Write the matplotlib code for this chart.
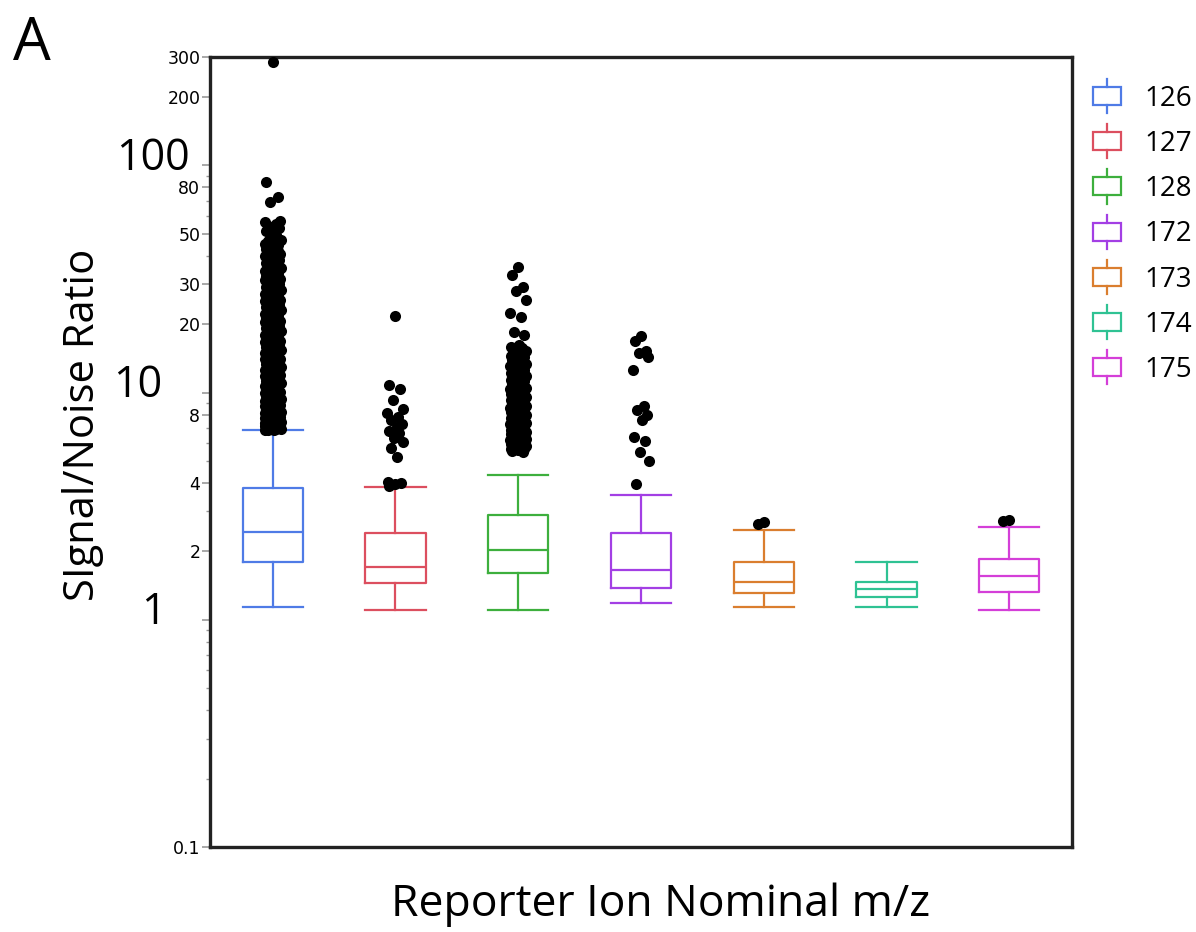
import numpy as np
import matplotlib.pyplot as plt
from matplotlib.patches import Rectangle
from matplotlib.lines import Line2D
from matplotlib.legend_handler import HandlerBase
from matplotlib.ticker import FixedLocator, FixedFormatter
from matplotlib import transforms

# reporter ions and box colours
ions = ['126', '127', '128', '172', '173', '174', '175']
colors = ['#4f7be6', '#dc4f5f', '#3daf3d', '#a33fe4', '#da7e2f', '#2fc293', '#d43fd8']

# box summary values (S/N)
whislo = [1.14, 1.10, 1.10, 1.18, 1.14, 1.14, 1.10]
q1 = [1.80, 1.45, 1.60, 1.38, 1.31, 1.26, 1.33]
med = [2.44, 1.71, 2.03, 1.66, 1.46, 1.37, 1.56]
q3 = [3.79, 2.40, 2.89, 2.40, 1.80, 1.47, 1.86]
whishi = [6.84, 3.85, 4.34, 3.54, 2.48, 1.80, 2.57]

# outliers (approximate, read from the dot columns)
fliers_126 = [285, 84.8, 72.8, 69.2, 57.0, 56.2, 55.4, 54.0, 53.1, 52.0, 51.5, 49.6,
              48.8, 47.2, 46.5, 45.9, 45.0, 44.6, 43.5, 43.0, 42.1, 41.4, 40.8, 40.1,
              39.7, 38.9, 38.2, 37.6, 37.3, 36.6, 36.1, 35.5, 35.0, 34.6, 34.2, 33.6,
              33.1, 32.7, 32.4, 31.9, 31.6, 31.2, 30.8, 30.4, 30.1, 29.6, 29.2, 28.9,
              28.7, 28.3, 28.0, 27.6, 27.3, 27.1, 26.9, 26.5, 26.1, 25.8, 25.5, 25.2,
              25.0, 24.6, 24.3, 24.1, 23.9, 23.5, 23.2, 23.0, 22.8, 22.4, 22.1, 21.9,
              21.7, 21.4, 21.1, 20.9, 20.6, 20.4, 20.2, 19.9, 19.7, 19.5, 19.3, 19.1,
              18.9, 18.6, 18.4, 18.2, 18.0, 17.8, 17.7, 17.5, 17.3, 17.1, 16.9, 16.7,
              16.6, 16.4, 16.2, 16.0, 15.9, 15.7, 15.6, 15.4, 15.3, 15.1, 15.0, 14.8,
              14.7, 14.5, 14.4, 14.2, 14.1, 14.0, 13.9, 13.7, 13.6, 13.4, 13.3, 13.2,
              13.1, 12.9, 12.8, 12.7, 12.6, 12.5, 12.4, 12.3, 12.2, 12.0, 11.9, 11.8,
              11.7, 11.6, 11.5, 11.4, 11.3, 11.2, 11.1, 11.0, 10.9, 10.8, 10.7, 10.6,
              10.5, 10.4, 10.3, 10.2, 10.1, 10.0, 9.95, 9.87, 9.8, 9.72, 9.65, 9.57,
              9.5, 9.42, 9.35, 9.27, 9.2, 9.12, 9.05, 8.97, 8.9, 8.84, 8.78, 8.71,
              8.65, 8.58, 8.52, 8.46, 8.4, 8.35, 8.3, 8.25, 8.2, 8.15, 8.1, 8.05, 8.0,
              7.95, 7.9, 7.85, 7.8, 7.76, 7.72, 7.68, 7.64, 7.6, 7.56, 7.52, 7.48,
              7.44, 7.4, 7.36, 7.33, 7.3, 7.26, 7.23, 7.2, 7.17, 7.14, 7.11, 7.08,
              7.05, 7.02, 7.0, 6.97, 6.95, 6.92, 6.9, 6.88, 6.86, 6.85]
fliers_127 = [21.7, 10.8, 10.4, 9.3, 8.5, 8.1, 7.8, 7.6, 7.3, 7.06, 6.8, 6.64, 6.3,
              6.06, 5.7, 5.21, 4.05, 4.0, 3.95, 3.9]
fliers_128 = [35.7, 32.9, 29.2, 28.1, 25.6, 22.4, 21.6, 18.5, 18.0, 16.2, 15.9, 15.7,
              15.4, 15.2, 15.0, 14.8, 14.5, 14.3, 14.1, 13.9, 13.7, 13.5, 13.3, 13.1,
              12.9, 12.7, 12.55, 12.4, 12.25, 12.1, 11.95, 11.8, 11.65, 11.5, 11.35,
              11.2, 11.05, 10.9, 10.75, 10.6, 10.5, 10.4, 10.3, 10.2, 10.1, 10.0, 9.9,
              9.8, 9.7, 9.6, 9.5, 9.4, 9.3, 9.2, 9.1, 9.0, 8.9, 8.8, 8.7, 8.6, 8.52,
              8.45, 8.37, 8.3, 8.22, 8.15, 8.07, 8.0, 7.92, 7.85, 7.77, 7.7, 7.62,
              7.55, 7.47, 7.4, 7.32, 7.25, 7.17, 7.1, 7.02, 6.95, 6.88, 6.8, 6.75,
              6.7, 6.65, 6.6, 6.55, 6.5, 6.45, 6.4, 6.35, 6.3, 6.25, 6.2, 6.15, 6.1,
              6.05, 6.0, 5.95, 5.9, 5.85, 5.8, 5.75, 5.7, 5.66, 5.62, 5.58, 5.55, 5.5]
fliers_172 = [17.7, 16.9, 15.3, 14.9, 14.3, 12.6, 8.7, 8.4, 8.0, 7.6, 6.4, 6.1, 5.5,
              5.0, 3.96]
fliers_173 = [2.70, 2.64]
fliers_174 = []
fliers_175 = [2.76, 2.72]
fliers = [fliers_126, fliers_127, fliers_128, fliers_172, fliers_173, fliers_174, fliers_175]

# y ticks
label_ticks = [0.1, 2, 4, 8, 20, 30, 50, 80, 200, 300]
big_ticks = [1, 10, 100]
big_labels = ['1', '10', '100']

SANS = 'Open Sans'

fig = plt.figure(figsize=(11.96, 9.32), dpi=100)
ax = fig.add_axes([0.1756, 0.0912, 0.7207, 0.8476])

positions = np.arange(1, len(ions) + 1)
jit = np.array([0.0, -0.05, 0.04, -0.02, 0.06, -0.065, 0.025, -0.035, 0.05, 0.01,
                -0.055, 0.03, -0.01, 0.065, -0.04, 0.015, -0.06, 0.045])

for i, ion in enumerate(ions):
    st = dict(med=med[i], q1=q1[i], q3=q3[i], whislo=whislo[i], whishi=whishi[i],
              fliers=[], label=ion)
    c = colors[i]
    lp = dict(color=c, linewidth=1.6)
    ax.bxp([st], positions=[positions[i]], widths=0.49, showfliers=False,
           boxprops=lp, whiskerprops=lp, capprops=lp, medianprops=lp,
           capwidths=0.49, manage_ticks=False)
    v = np.array(fliers[i], dtype=float)
    if len(v):
        ax.plot(positions[i] + np.resize(jit, len(v)), v, 'o', color='black',
                ms=8, mew=0, zorder=3)

ax.set_yscale('log')
ax.set_ylim(0.1, 300)
ax.set_xlim(0.49, 7.51)
ax.set_xticks([])

all_major = sorted(label_ticks + big_ticks)
minor = []
for e in [0.1, 1, 10, 100]:
    for k in range(1, 10):
        t = round(k * e, 3)
        if t <= 300 and t not in all_major:
            minor.append(t)
ax.yaxis.set_major_locator(FixedLocator(all_major))
ax.yaxis.set_major_formatter(FixedFormatter([('%g' % t) if t in label_ticks else ''
                                             for t in all_major]))
ax.yaxis.set_minor_locator(FixedLocator(minor))
ax.yaxis.set_minor_formatter(FixedFormatter([''] * len(minor)))
ax.tick_params(axis='y', which='major', length=6, width=1.2, color='#999999',
               pad=1, labelsize=12.5)
ax.tick_params(axis='y', which='minor', length=3, width=1.0, color='#999999')

# large decade labels, placed like the reference
btrans = transforms.offset_copy(
    transforms.blended_transform_factory(fig.transFigure, ax.transData),
    fig=fig, x=0, y=7, units='dots')
for t, lab, xr in zip(big_ticks, big_labels, [166, 162, 190]):
    ax.text(xr / 1196, t, lab, transform=btrans, fontsize=31, family=SANS,
            ha='right', va='center')

for s in ax.spines.values():
    s.set_linewidth(2.4)
    s.set_color('#222222')

fig.text(0.552, 0.029, 'Reporter Ion Nominal m/z', fontsize=32, family=SANS,
         ha='center', va='center')
fig.text(0.069, 0.544, 'SIgnal/Noise Ratio', fontsize=30, family=SANS,
         rotation=90, ha='center', va='center')
fig.text(0.011, 0.985, 'A', fontsize=43, family=SANS, ha='left', va='top')


class BoxIcon(HandlerBase):
    def create_artists(self, legend, orig_handle, xdescent, ydescent,
                       width, height, fontsize, trans):
        c = orig_handle.get_edgecolor()
        stem = 0.29 * fontsize
        r = Rectangle((-xdescent, -ydescent), width, height, fc='none', ec=c,
                      lw=1.6, transform=trans)
        xm = -xdescent + width / 2
        top = Line2D([xm, xm], [-ydescent + height, -ydescent + height + stem],
                     color=c, lw=1.6, transform=trans)
        bot = Line2D([xm, xm], [-ydescent - stem, -ydescent], color=c, lw=1.6,
                     transform=trans)
        return [r, top, bot]


handles = [Rectangle((0, 0), 1, 1, fc='none', ec=c) for c in colors]
fig.legend(handles, ions, handler_map={Rectangle: BoxIcon()}, loc='upper left',
           bbox_to_anchor=(0.914, 0.909), frameon=False, borderpad=0,
           borderaxespad=0, handlelength=1.0, handleheight=0.62,
           handletextpad=0.83, labelspacing=0.62,
           prop={'family': SANS, 'size': 20})

fig.savefig('out.png', dpi=100)
